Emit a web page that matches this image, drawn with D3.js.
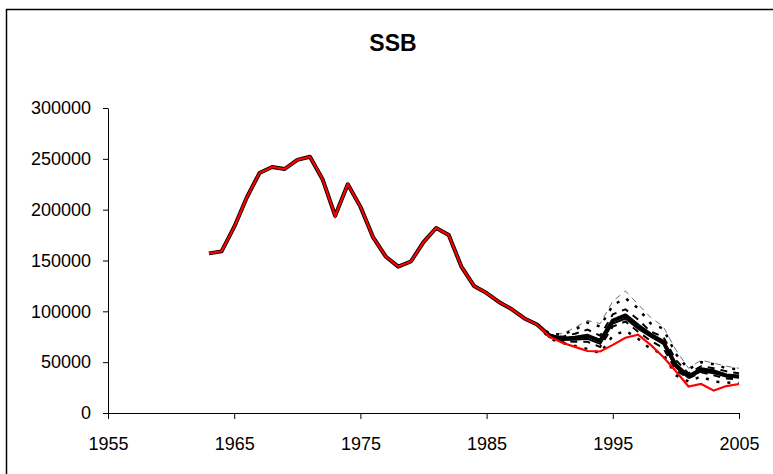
<!DOCTYPE html>
<html>
<head>
<meta charset="utf-8">
<script src="https://cdn.jsdelivr.net/npm/d3@7"></script>
<style>
  body { margin: 0; background: #fff; }
  text { font-family: "Liberation Sans", Arial, sans-serif; }
</style>
</head>
<body>
<div id="chart"></div>
<script>
// years of the assessment run
const years = d3.range(1963, 2006);
const xTicks = [1955, 1965, 1975, 1985, 1995, 2005];
const yTicks = [0, 50000, 100000, 150000, 200000, 250000, 300000];

// red line - the assessment
const ssbAssess = [157000, 159000, 183000, 212000, 236000, 242000, 240000, 249000, 252000, 230000,
  194000, 225000, 203000, 173000, 154000, 144000, 149000, 168000, 182000, 175000,
  144000, 125000, 118000, 109000, 102000, 93000, 87000, 75000, 69000, 65000,
  61000, 60500, 67000, 74000, 77000, 67000, 55000, 41000, 26000, 28500,
  22000, 26500, 28500];

// thick black line - median
const ssbMedian = [157000, 159000, 183000, 212000, 236000, 242000, 240000, 249000, 252000, 230000,
  194000, 225000, 203000, 173000, 154000, 144000, 149000, 168000, 182000, 175000,
  144000, 125000, 118000, 109000, 102000, 93000, 87000, 76000, 73000, 74000,
  76000, 71000, 91000, 96000, 86000, 77000, 70000, 47000, 36000, 43000,
  41000, 37000, 36000];

// the spread, only from 1989 on
const bandYears = d3.range(1989, 2006);
const ssbMean = [87000, 75500, 72000, 72000, 73000, 68000, 88000, 93000, 83000, 75000, 68000, 45000, 35000, 41000, 39000, 36000, 35000];
const ssbP5   = [87000, 73000, 69000, 66000, 63000, 59000, 76000, 81000, 73000, 63000, 58000, 37000, 31000, 36000, 31000, 30000, 29500];
const ssbP25  = [87000, 74500, 71000, 70000, 70000, 65000, 85000, 90000, 80000, 71000, 64000, 42000, 34000, 40000, 37000, 34000, 33000];
const ssbP75  = [87000, 77000, 75000, 78000, 82000, 76000, 97000, 102000, 92000, 80000, 75000, 52000, 39000, 46000, 44000, 41000, 39000];
const ssbP95  = [87000, 78000, 77000, 82000, 89000, 85000, 106000, 113000, 103000, 88000, 83000, 58000, 43000, 50000, 48000, 44000, 43000];
const ssbMax  = [87000, 78000, 78000, 84000, 91000, 88000, 110000, 120000, 107000, 94000, 85000, 62000, 44000, 52000, 49000, 46000, 44000];

const width = 773, height = 474;
const margin = {top: 108, right: 34, bottom: 61, left: 108};

const svg = d3.select("#chart")
  .append("svg")
    .attr("width", width)
    .attr("height", height);

// outer frame of the chart area
svg.append("rect")
  .attr("x", 6.5).attr("y", 9.5)
  .attr("width", 900).attr("height", 600)
  .attr("fill", "none")
  .attr("stroke", "#000")
  .attr("stroke-width", 1.5);

svg.append("text")
  .attr("x", 393)
  .attr("y", 51)
  .attr("text-anchor", "middle")
  .style("font-size", "23px")
  .style("font-weight", "bold")
  .text("SSB");

const x = d3.scaleLinear()
  .domain([1955, 2005])
  .range([margin.left, width - margin.right]);

const y = d3.scaleLinear()
  .domain([0, 300000])
  .range([height - margin.bottom, margin.top]);

const g = svg.append("g");

g.append("g")
  .attr("transform", `translate(0, ${y(0)})`)
  .call(d3.axisBottom(x).tickValues(xTicks).tickFormat(d3.format("d"))
    .tickSize(6).tickSizeOuter(0).tickPadding(18))
  .call(a => a.selectAll("text").style("font-size", "18px").attr("fill", "#000"))
  .call(a => a.selectAll("line,path").attr("stroke", "#000"));

g.append("g")
  .attr("transform", `translate(${x(1955)}, 0)`)
  .call(d3.axisLeft(y).tickValues(yTicks).tickFormat(d3.format("d"))
    .tickSize(5).tickSizeOuter(0).tickPadding(12))
  .call(a => a.selectAll("text").style("font-size", "18px").attr("fill", "#000"))
  .call(a => a.selectAll("line,path").attr("stroke", "#000"));

const line = d3.line()
  .x(d => x(d[0]))
  .y(d => y(d[1]));

const band = vals => bandYears.map((yr, i) => [yr, vals[i]]);

// spread lines
const bands = [
  {vals: ssbMax, w: 0.7, dash: "6,5", col: "#333"},
  {vals: ssbP95, w: 2.5, dash: "3,8", col: "#000"},
  {vals: ssbP5,  w: 2.5, dash: "3,8", col: "#000"},
  {vals: ssbP75, w: 2,   dash: "7,6", col: "#000"},
  {vals: ssbP25, w: 2,   dash: "7,6", col: "#000"},
  {vals: ssbMean, w: 2,  dash: null,  col: "#000"}
];

g.selectAll(".band")
  .data(bands)
  .join("path")
    .attr("class", "band")
    .attr("d", d => line(band(d.vals)))
    .attr("fill", "none")
    .attr("stroke", d => d.col)
    .attr("stroke-width", d => d.w)
    .attr("stroke-dasharray", d => d.dash);

g.append("path")
  .attr("d", line(years.map((yr, i) => [yr, ssbMedian[i]])))
  .attr("fill", "none")
  .attr("stroke", "#000")
  .attr("stroke-width", 4)
  .attr("stroke-linejoin", "round");

g.append("path")
  .attr("d", line(years.map((yr, i) => [yr, ssbAssess[i]])))
  .attr("fill", "none")
  .attr("stroke", "#ff0000")
  .attr("stroke-width", 2.2);
</script>
</body>
</html>
